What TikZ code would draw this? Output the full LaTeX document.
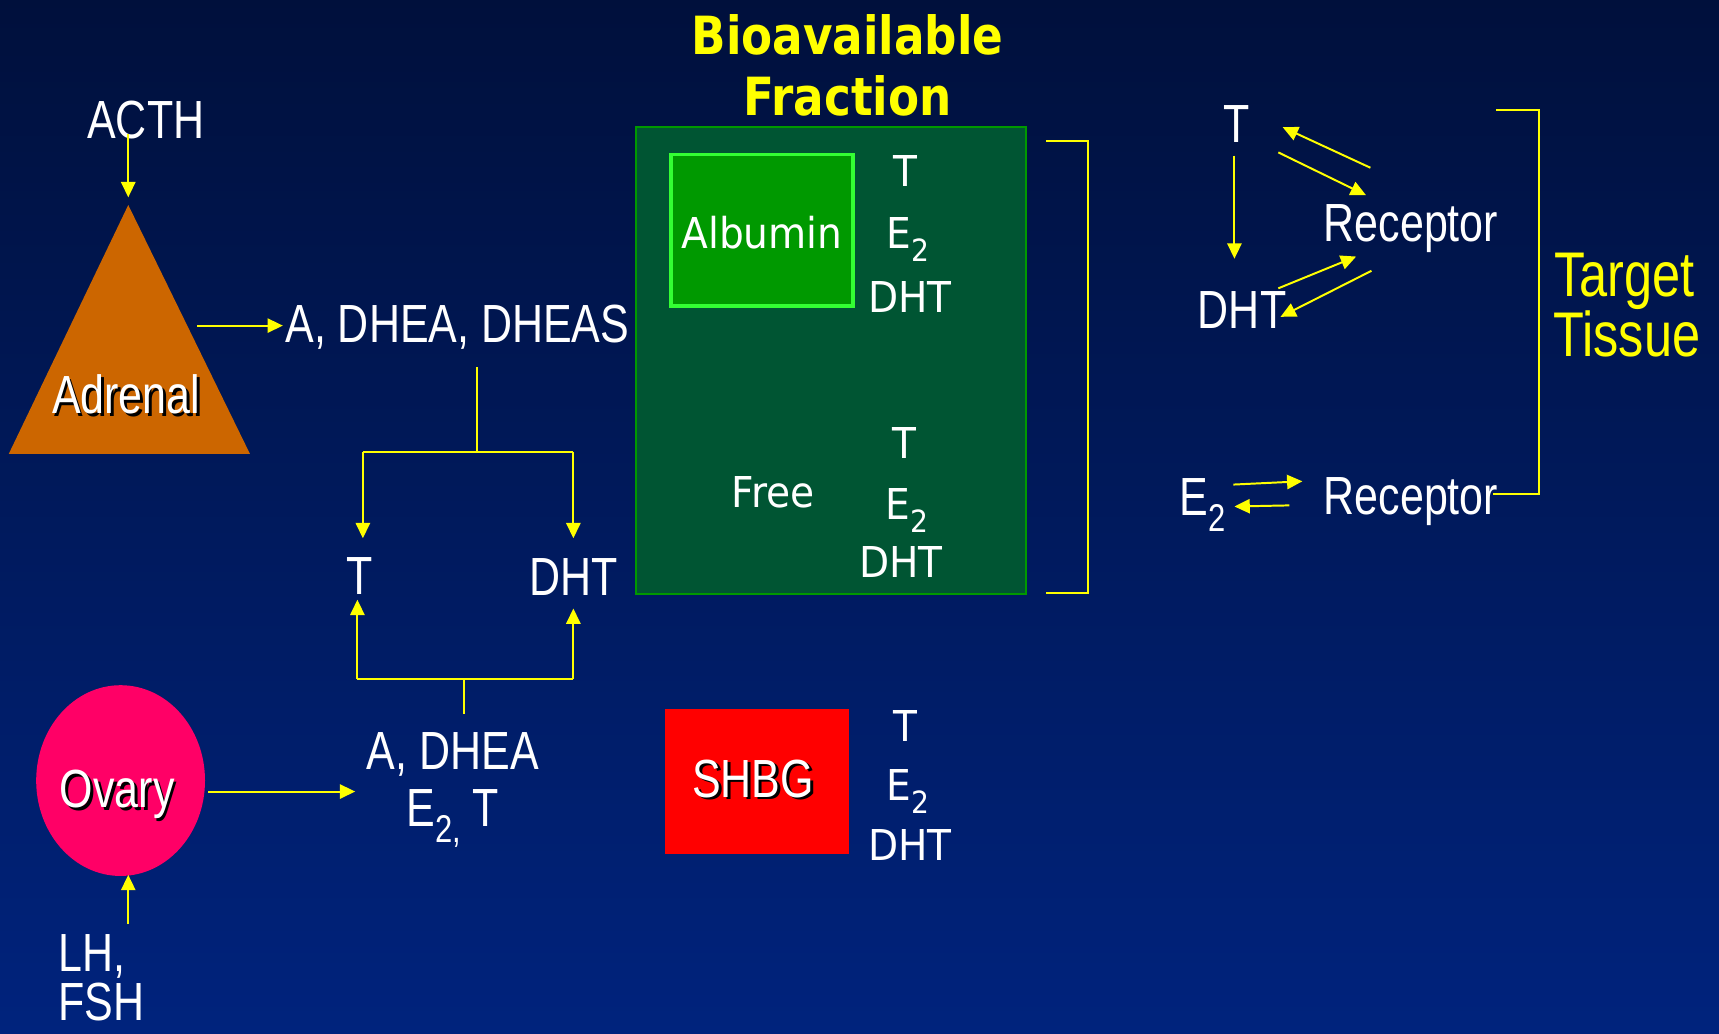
\documentclass[tikz,border=0pt]{standalone}
\usepackage{fontspec}
\setmainfont{Liberation Sans}[FakeStretch=0.8]
\newfontfamily\tah{DejaVu Sans}[FakeStretch=0.92]
\newfontfamily\ttl{DejaVu Sans}[FakeStretch=0.86]
\usetikzlibrary{arrows.meta}
\definecolor{bgtop}{RGB}{0,16,60}
\definecolor{bgbot}{RGB}{0,35,125}
\definecolor{adr}{RGB}{204,102,0}
\definecolor{ova}{RGB}{255,0,102}
\definecolor{boxg}{RGB}{0,85,51}
\definecolor{boxe}{RGB}{0,153,0}
\definecolor{albf}{RGB}{0,153,0}
\definecolor{albe}{RGB}{51,255,51}
\definecolor{yel}{RGB}{255,255,0}
\newcommand\subtwo[1]{\raisebox{-0.3em}{\scalebox{0.72}{#1}}}
\newcommand\shdw[1]{\rlap{\kern1.3pt\raisebox{-1.3pt}{\color{black}#1}}#1}
\tikzset{
  lab/.style={text=white,inner sep=0pt,anchor=base,font=\fontsize{24.5}{28}\selectfont},
  tlab/.style={text=white,inner sep=0pt,anchor=base,font=\tah\fontsize{19.4}{22}\selectfont},
  ylab/.style={text=yel,inner sep=0pt,anchor=base,font=\fontsize{28.8}{32}\selectfont},
  title/.style={text=yel,inner sep=0pt,anchor=base,font=\ttl\bfseries\fontsize{24}{28}\selectfont},
  conn/.style={draw=yel,line width=0.9pt},
  arr/.style={conn,-{Triangle[length=7pt,width=6.5pt]}},
}
\begin{document}
\begin{tikzpicture}[x=0.5pt,y=-0.5pt]
\useasboundingbox (0,0) rectangle (1568,943);
\shade[top color=bgtop,bottom color=bgbot] (0,0) rectangle (1568,943);

% ---------- Left column ----------
\node[lab] (acth) at (133,126) {ACTH};
\fill[adr] (117,187) -- (228,414) -- (8,414) -- cycle;
\coordinate (adrtop) at (117,180);
\node[lab] (adrenal) at (115,377) {\shdw{Adrenal}};
\coordinate (acths) at (117,122);
\draw[arr] (acths) -- (adrtop);

\node[lab,anchor=base west] (adhea) at (260,312) {A, DHEA, DHEAS};
\coordinate (adrr) at (180,297);
\coordinate (adheaw) at (258,297);
\draw[arr] (adrr) -- (adheaw);

\node[lab] (t1) at (328,542) {T};
\node[lab] (dht1) at (523,543) {DHT};
\coordinate (sp1) at (435,335);
\coordinate (j1) at (435,412);
\coordinate (j1l) at (331,412);
\coordinate (j1r) at (523,412);
\coordinate (t1top) at (331,491);
\coordinate (dht1top) at (523,491);
\draw[conn] (sp1) -- (j1);
\draw[conn] (j1l) -- (j1r);
\draw[arr] (j1l) -- (t1top);
\draw[arr] (j1r) -- (dht1top);

\coordinate (sp2) at (423,651);
\coordinate (j2) at (423,619);
\coordinate (j2l) at (326,619);
\coordinate (j2r) at (523,619);
\coordinate (t1bot) at (326,547);
\coordinate (dht1bot) at (523,555);
\draw[conn] (sp2) -- (j2);
\draw[conn] (j2l) -- (j2r);
\draw[arr] (j2l) -- (t1bot);
\draw[arr] (j2r) -- (dht1bot);

\fill[ova] (110,712) ellipse [x radius=77, y radius=87];
\node[lab] (ovary) at (107,737) {\shdw{Ovary}};
\node[lab] (adhea2) at (413,702) {A, DHEA};
\node[lab] (e2t) at (413,754) {E\subtwo{2,} T};
\coordinate (ovr) at (190,722);
\coordinate (adhea2w) at (324,722);
\draw[arr] (ovr) -- (adhea2w);

\node[lab,anchor=base west] (lh) at (53,886) {LH,};
\node[lab,anchor=base west] (fsh) at (53,931) {FSH};
\coordinate (lhtop) at (117,843);
\coordinate (ovbot) at (117,798);
\draw[arr] (lhtop) -- (ovbot);

% ---------- Middle column ----------
\node[title] (bio) at (773,50) {Bioavailable};
\node[title] (frac) at (773,105) {Fraction};
\draw[fill=boxg,draw=boxe,line width=1pt] (580,116) rectangle (936,542);
\draw[fill=albf,draw=albe,line width=1.5pt] (612,141) rectangle (778,279);
\node[tlab] (alb) at (695,227) {Albumin};
\node[tlab] (ta) at (826,170) {T};
\node[tlab] (ea) at (828,227) {E\subtwo{2}};
\node[tlab] (da) at (830,285) {DHT};
\node[tlab] (free) at (705,463) {Free};
\node[tlab] (tf) at (825,418) {T};
\node[tlab] (ef) at (827,474) {E\subtwo{2}};
\node[tlab] (df) at (822,527) {DHT};

\coordinate (b1a) at (954,129);
\coordinate (b1b) at (992,129);
\coordinate (b1c) at (992,541);
\coordinate (b1d) at (954,541);
\draw[conn] (b1a) -- (b1b) -- (b1c) -- (b1d);

\fill[red] (607,647) rectangle (774,779);
\node[lab] (shbg) at (687,727) {\shdw{SHBG}};
\node[tlab] (ts) at (826,676) {T};
\node[tlab] (es) at (828,730) {E\subtwo{2}};
\node[tlab] (ds) at (830,785) {DHT};

% ---------- Right column ----------
\node[lab] (t2) at (1128,130) {T};
\node[lab] (rec1) at (1287,220) {Receptor};
\node[lab] (dht2) at (1133,300) {DHT};
\node[lab] (e2) at (1097,470) {E\subtwo{2}};
\node[lab] (rec2) at (1287,469) {Receptor};

\coordinate (a1s) at (1126,142); \coordinate (a1e) at (1126,236);
\draw[arr] (a1s) -- (a1e);
\coordinate (a2s) at (1250,153); \coordinate (a2e) at (1170,116);
\draw[arr] (a2s) -- (a2e);
\coordinate (a3s) at (1166,139); \coordinate (a3e) at (1246,178);
\draw[arr] (a3s) -- (a3e);
\coordinate (a4s) at (1166,263); \coordinate (a4e) at (1237,234);
\draw[arr] (a4s) -- (a4e);
\coordinate (a5s) at (1251,247); \coordinate (a5e) at (1168,289);
\draw[arr] (a5s) -- (a5e);
\coordinate (a6s) at (1125,442); \coordinate (a6e) at (1188,439);
\draw[arr] (a6s) -- (a6e);
\coordinate (a7s) at (1176,461); \coordinate (a7e) at (1126,462);
\draw[arr] (a7s) -- (a7e);

\coordinate (b2a) at (1365,100);
\coordinate (b2b) at (1404,100);
\coordinate (b2c) at (1404,451);
\coordinate (b2d) at (1362,451);
\draw[conn] (b2a) -- (b2b) -- (b2c) -- (b2d);

\node[ylab] (target) at (1482,270) {Target};
\node[ylab] (tissue) at (1484,325) {Tissue};
\end{tikzpicture}
\end{document}
